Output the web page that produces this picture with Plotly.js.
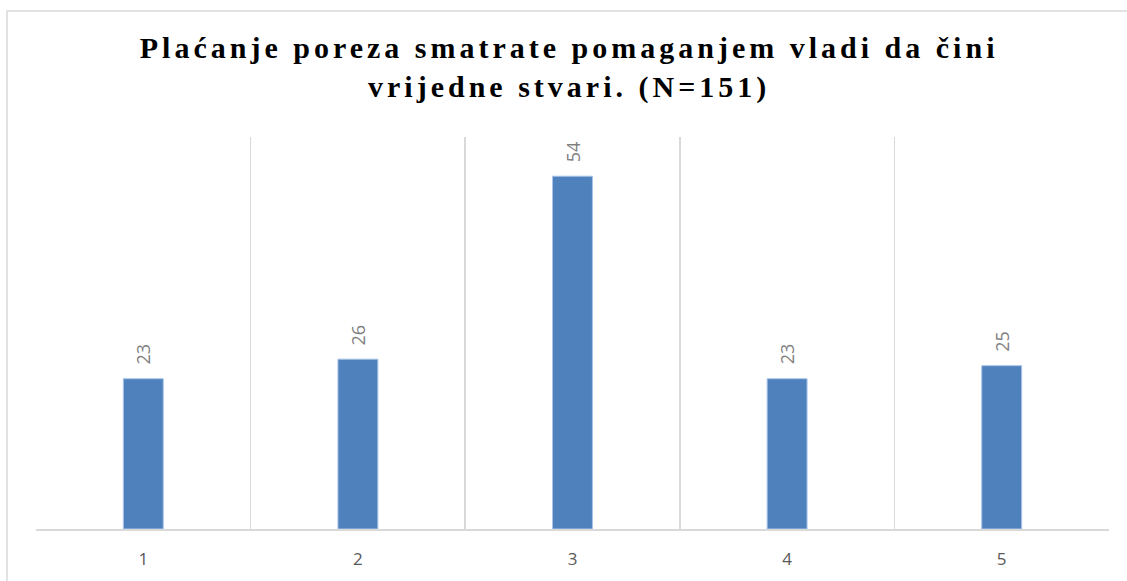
<!DOCTYPE html>
<html>
<head>
<meta charset="utf-8">
<script src="https://cdn.plot.ly/plotly-3.0.1.min.js"></script>
<style>
html,body{margin:0;padding:0;background:#fff;}
#chart{width:1127px;height:581px;}
.gtitle{letter-spacing:4px;}
</style>
</head>
<body>
<div id="chart"></div>
<script>
const categories = [1, 2, 3, 4, 5];
const tickLabels = ["1", "2", "3", "4", "5"];
const counts = [23, 26, 54, 23, 25];
const boundaries = [0.5, 1.5, 2.5, 3.5, 4.5, 5.5];

const trace = {
  type: 'bar',
  x: categories,
  y: counts,
  width: 0.186,
  marker: {color: '#4F81BD', line: {color: '#A9C4E8', width: 1}},
  hoverinfo: 'skip'
};
const gridTrace = {
  type: 'scatter', x: [], y: [], xaxis: 'x2', yaxis: 'y', hoverinfo: 'skip', showlegend: false
};

const labelAnnotations = categories.map((c, i) => ({
  x: c, y: counts[i], xref: 'x', yref: 'y',
  text: String(counts[i]),
  showarrow: false,
  textangle: -90,
  yanchor: 'bottom', xanchor: 'center',
  yshift: 12,
  font: {family: 'Open Sans, Arial, sans-serif', size: 18, color: '#7F7F7F'}
}));

const layout = {
  width: 1127, height: 581,
  margin: {l: 36, r: 18, t: 137, b: 52},
  paper_bgcolor: '#ffffff',
  plot_bgcolor: '#ffffff',
  showlegend: false,
  bargap: 0,
  title: {
    text: 'Plaćanje poreza smatrate pomaganjem vladi da čini<br>vrijedne stvari. (N=151)',
    font: {family: 'Liberation Serif, Times New Roman, serif', size: 30, color: '#000000', weight: 'bold'},
    x: 0.505, xanchor: 'center', yref: 'container', y: 0.90, yanchor: 'top', automargin: false
  },
  xaxis: {
    range: [0.5, 5.5],
    tickvals: categories,
    ticktext: tickLabels,
    showgrid: false,
    zeroline: false,
    showline: true,
    linecolor: '#D9D9D9',
    linewidth: 2,
    ticks: '',
    ticklabelstandoff: 14,
    tickfont: {family: 'Open Sans, Arial, sans-serif', size: 17, color: '#595959'},
    fixedrange: true
  },
  xaxis2: {
    overlaying: 'x',
    range: [0.5, 5.5],
    tickvals: boundaries,
    showticklabels: false,
    showgrid: true,
    gridcolor: '#D9D9D9',
    gridwidth: 1.5,
    zeroline: false,
    ticks: '',
    fixedrange: true
  },
  yaxis: {
    range: [0, 60],
    showgrid: false,
    zeroline: false,
    showticklabels: false,
    ticks: '',
    showline: false,
    fixedrange: true
  },
  annotations: labelAnnotations,
  shapes: [{
    type: 'rect', xref: 'paper', yref: 'paper',
    x0: -0.027, x1: 1.3, y0: -0.5, y1: 1.3214,
    line: {color: '#D9D9D9', width: 1.5}, fillcolor: 'rgba(0,0,0,0)', layer: 'below'
  }]
};

Plotly.newPlot('chart', [gridTrace, trace], layout, {displayModeBar: false, staticPlot: true});
</script>
</body>
</html>
